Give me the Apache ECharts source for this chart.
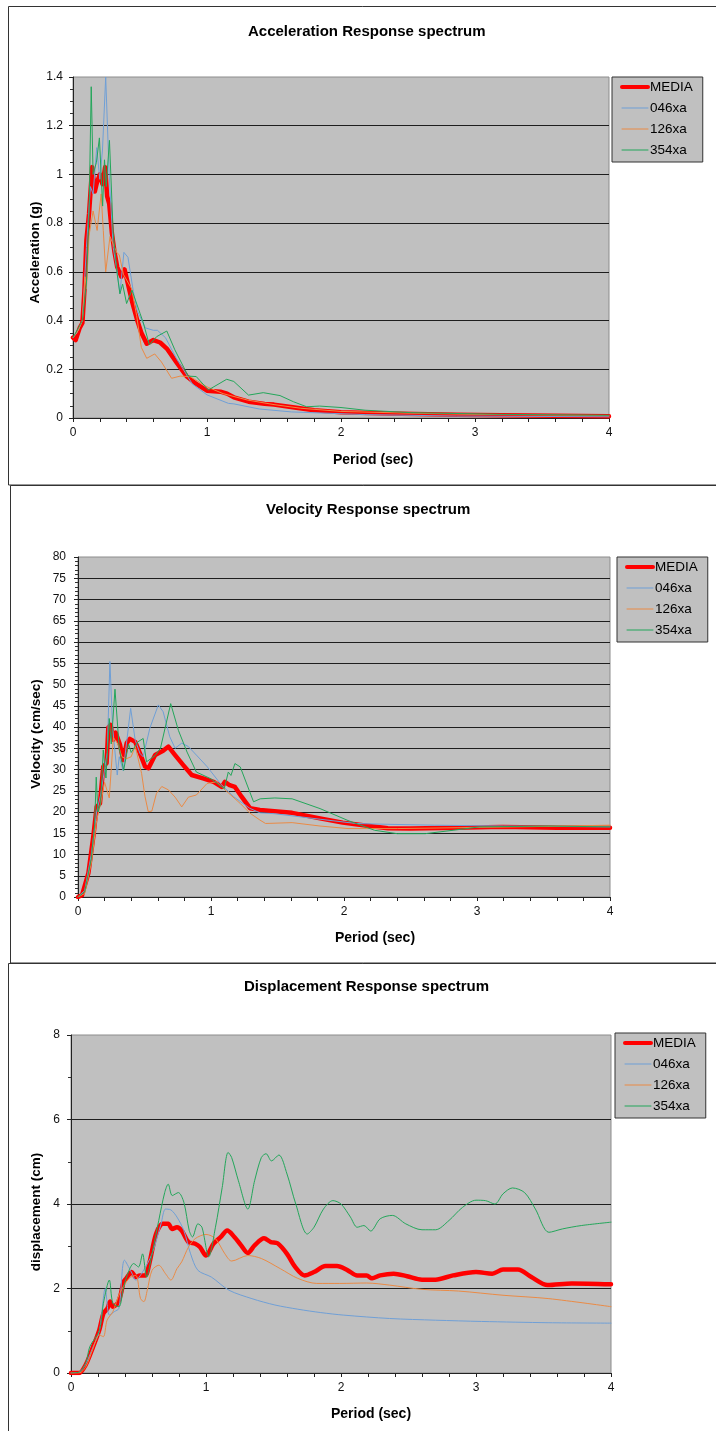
<!DOCTYPE html>
<html>
<head>
<meta charset="utf-8">
<script src="https://cdn.jsdelivr.net/npm/echarts@6/dist/echarts.min.js"></script>
<style>
html,body{margin:0;padding:0;background:#fff;}
#c{width:716px;height:1431px;}
</style>
</head>
<body>
<div id="c"></div>
<script>
// ---------- DATA ----------
var seriesNames = ['MEDIA', '046xa', '126xa', '354xa'];
var chartTitles = ['Acceleration Response spectrum', 'Velocity Response spectrum', 'Displacement Response spectrum'];
var yTitles = ['Acceleration (g)', 'Velocity (cm/sec)', 'displacement (cm)'];
var xTitle = 'Period (sec)';

// Acceleration [period (s), value (g)]
var accMedia = [[0,0.33],[0.02,0.32],[0.05,0.37],[0.07,0.39],[0.085,0.52],[0.10,0.73],[0.12,0.84],[0.143,1.03],[0.163,0.93],[0.18,0.97],[0.20,1.0],[0.22,0.96],[0.24,1.03],[0.255,0.91],[0.27,0.88],[0.29,0.76],[0.31,0.68],[0.33,0.62],[0.36,0.58],[0.385,0.61],[0.41,0.55],[0.44,0.48],[0.48,0.40],[0.51,0.35],[0.55,0.305],[0.6,0.32],[0.65,0.31],[0.70,0.285],[0.77,0.23],[0.85,0.17],[0.92,0.14],[1.0,0.112],[1.1,0.108],[1.15,0.10],[1.2,0.085],[1.31,0.067],[1.43,0.058],[1.5,0.055],[1.64,0.044],[1.8,0.032],[2.0,0.024],[2.35,0.018],[2.86,0.013],[3.2,0.011],[4,0.007]];
var acc046 = [[0,0.33],[0.03,0.35],[0.07,0.40],[0.10,0.70],[0.13,0.95],[0.15,0.92],[0.177,1.11],[0.20,0.98],[0.22,1.1],[0.244,1.40],[0.27,1.0],[0.30,0.70],[0.33,0.60],[0.35,0.51],[0.38,0.68],[0.41,0.66],[0.45,0.52],[0.48,0.44],[0.54,0.37],[0.6,0.36],[0.63,0.36],[0.69,0.33],[0.77,0.246],[0.89,0.14],[1.0,0.095],[1.16,0.06],[1.2,0.058],[1.39,0.037],[1.63,0.025],[2.18,0.014],[2.86,0.008],[4,0.005]];
var acc126 = [[0,0.33],[0.04,0.36],[0.07,0.40],[0.09,0.58],[0.10,0.53],[0.12,0.75],[0.15,0.85],[0.18,0.77],[0.21,0.92],[0.226,0.77],[0.244,0.60],[0.276,0.745],[0.326,0.68],[0.345,0.67],[0.376,0.59],[0.438,0.53],[0.475,0.42],[0.51,0.29],[0.55,0.245],[0.61,0.263],[0.66,0.23],[0.736,0.163],[0.8,0.172],[0.873,0.17],[1.0,0.128],[1.12,0.10],[1.3,0.074],[1.5,0.055],[1.7,0.04],[2.0,0.027],[2.5,0.02],[3.0,0.015],[4,0.01]];
var acc354 = [[0,0.33],[0.04,0.37],[0.07,0.40],[0.10,0.55],[0.12,0.85],[0.136,1.36],[0.15,1.0],[0.175,1.05],[0.197,1.15],[0.221,0.87],[0.235,1.06],[0.248,0.95],[0.272,1.14],[0.30,0.76],[0.33,0.59],[0.35,0.51],[0.37,0.55],[0.40,0.47],[0.44,0.525],[0.50,0.43],[0.525,0.39],[0.57,0.30],[0.624,0.334],[0.70,0.357],[0.76,0.28],[0.86,0.172],[0.92,0.17],[1.01,0.115],[1.147,0.159],[1.2,0.15],[1.31,0.094],[1.42,0.104],[1.545,0.092],[1.644,0.067],[1.744,0.046],[1.84,0.049],[2.0,0.043],[2.18,0.032],[2.52,0.022],[3.2,0.015],[4,0.011]];

// Velocity [period (s), value (cm/sec)]
var velMedia = [[0,0],[0.03,0.4],[0.078,5.6],[0.115,14.2],[0.14,21.2],[0.165,22],[0.19,30.7],[0.215,31.5],[0.228,39.9],[0.246,40.5],[0.266,37],[0.283,38.7],[0.316,35.8],[0.34,32.2],[0.366,36.2],[0.39,37.2],[0.43,36.5],[0.466,33.8],[0.504,30.7],[0.53,30.3],[0.58,33.4],[0.64,34.4],[0.68,35.4],[0.73,33.4],[0.79,31.1],[0.855,28.7],[0.94,27.9],[1.02,27.1],[1.08,25.9],[1.105,27.1],[1.14,26.3],[1.18,25.9],[1.23,23.6],[1.293,20.9],[1.368,20.5],[1.476,20.2],[1.61,19.8],[1.82,18.5],[1.99,17.5],[2.16,16.8],[2.33,16.2],[2.5,16.1],[2.85,16.3],[3.19,16.5],[3.6,16.3],[4,16.3]];
var vel046 = [[0,0],[0.05,1.5],[0.1,10],[0.14,20],[0.17,24],[0.2,30],[0.22,34],[0.24,55.4],[0.26,40],[0.295,28.7],[0.31,33],[0.34,29.7],[0.396,44.4],[0.43,36.9],[0.466,33.8],[0.49,33],[0.54,39.7],[0.604,45.2],[0.64,43.6],[0.69,37.7],[0.73,35],[0.78,36.2],[0.83,35.4],[0.89,33.4],[0.97,30.7],[1.07,26.7],[1.17,23.6],[1.29,20.9],[1.368,19.8],[1.476,19.6],[1.82,18.3],[2.09,17.3],[2.33,17.1],[2.68,16.9],[3.2,16.7],[4,16.5]];
var vel126 = [[0,0],[0.05,0.8],[0.1,8],[0.14,18],[0.17,22],[0.2,27],[0.235,23.3],[0.266,37.5],[0.3,36],[0.33,33],[0.36,32.5],[0.4,33],[0.43,35.5],[0.478,29.1],[0.504,23.6],[0.528,20.1],[0.555,20.2],[0.59,24.4],[0.63,26],[0.68,25.2],[0.73,23.5],[0.78,21.2],[0.83,23.5],[0.89,24],[0.97,26.7],[1.04,27.1],[1.12,24.8],[1.22,22],[1.29,19.8],[1.368,18.1],[1.41,17.3],[1.61,17.5],[1.82,16.7],[2.03,16.1],[2.4,16.1],[2.85,16.3],[3.5,16.6],[4,16.9]];
var vel354 = [[0,0],[0.05,1.2],[0.1,9],[0.125,17],[0.137,28.2],[0.15,20],[0.17,22],[0.19,34.6],[0.21,28],[0.235,42],[0.25,36],[0.278,48.9],[0.31,35],[0.343,29.8],[0.38,36],[0.4,34],[0.45,36.5],[0.49,37.3],[0.515,31.8],[0.58,33.3],[0.62,35],[0.697,45.5],[0.755,39.2],[0.82,34.1],[0.89,29.4],[1.0,27.8],[1.1,25.5],[1.13,29.4],[1.15,28.6],[1.18,31.4],[1.22,30.6],[1.32,22.4],[1.37,23.1],[1.48,23.3],[1.61,23.1],[1.82,20.8],[2.03,18],[2.23,15.7],[2.4,14.9],[2.61,14.9],[2.82,15.7],[3.02,16.5],[3.54,16.7],[4,16.5]];

// Displacement [period (s), value (cm)]
var dispMedia = [[0,0],[0.06,0],[0.11,0.2],[0.16,0.59],[0.21,1.02],[0.24,1.41],[0.27,1.53],[0.29,1.69],[0.31,1.57],[0.345,1.65],[0.37,1.88],[0.39,2.16],[0.41,2.24],[0.45,2.39],[0.48,2.27],[0.51,2.31],[0.55,2.31],[0.58,2.59],[0.63,3.29],[0.68,3.53],[0.72,3.53],[0.75,3.41],[0.785,3.45],[0.82,3.37],[0.87,3.1],[0.92,3.06],[0.955,2.98],[1.0,2.78],[1.056,3.06],[1.11,3.22],[1.157,3.37],[1.21,3.22],[1.26,3.02],[1.31,2.84],[1.36,3.02],[1.43,3.19],[1.48,3.1],[1.53,3.07],[1.6,2.82],[1.66,2.51],[1.73,2.31],[1.8,2.39],[1.885,2.53],[1.97,2.53],[2.05,2.43],[2.12,2.31],[2.19,2.31],[2.23,2.24],[2.29,2.31],[2.39,2.35],[2.49,2.29],[2.6,2.21],[2.7,2.21],[2.83,2.31],[3.0,2.39],[3.12,2.35],[3.2,2.45],[3.31,2.45],[3.41,2.27],[3.53,2.08],[3.71,2.12],[4,2.1]];
var disp046 = [[0,0],[0.06,0.02],[0.11,0.22],[0.16,0.59],[0.21,1.0],[0.254,2.0],[0.284,1.37],[0.32,1.45],[0.355,1.53],[0.396,2.67],[0.447,2.39],[0.48,2.2],[0.53,2.39],[0.6,2.82],[0.667,3.53],[0.7,3.88],[0.74,3.86],[0.785,3.69],[0.836,3.37],[0.886,2.82],[0.94,2.43],[1.04,2.27],[1.17,1.96],[1.34,1.76],[1.51,1.61],[1.68,1.51],[1.85,1.43],[2.02,1.37],[2.36,1.29],[2.7,1.25],[3.04,1.22],[3.54,1.19],[4,1.18]];
var disp126 = [[0,0],[0.06,0],[0.11,0.15],[0.16,0.55],[0.21,0.9],[0.24,0.86],[0.267,1.25],[0.31,1.45],[0.36,1.88],[0.43,2.24],[0.48,2.31],[0.515,1.76],[0.54,1.69],[0.565,1.96],[0.6,2.43],[0.65,2.55],[0.7,2.35],[0.74,2.2],[0.785,2.47],[0.82,2.63],[0.87,2.98],[0.92,3.18],[1.0,3.28],[1.07,3.18],[1.14,2.82],[1.19,2.65],[1.31,2.78],[1.41,2.71],[1.55,2.47],[1.68,2.24],[1.82,2.12],[1.99,2.12],[2.19,2.13],[2.36,2.08],[2.6,1.98],[2.87,1.94],[3.2,1.84],[3.54,1.76],[4,1.57]];
var disp354 = [[0,0],[0.06,0.02],[0.11,0.25],[0.14,0.63],[0.21,1.0],[0.24,1.65],[0.284,2.2],[0.31,1.65],[0.355,1.57],[0.39,2.04],[0.43,2.43],[0.464,2.59],[0.5,2.51],[0.53,2.82],[0.56,2.27],[0.6,2.82],[0.65,3.61],[0.694,4.27],[0.72,4.47],[0.75,4.2],[0.795,4.27],[0.836,4.04],[0.876,3.37],[0.9,3.22],[0.94,3.53],[0.97,3.45],[1.02,2.75],[1.07,3.45],[1.12,4.39],[1.164,5.22],[1.19,5.1],[1.24,4.55],[1.31,3.88],[1.36,4.55],[1.41,5.1],[1.445,5.19],[1.485,5.02],[1.54,5.16],[1.6,4.71],[1.665,4.0],[1.75,3.29],[1.8,3.45],[1.87,3.88],[1.94,4.08],[2.0,4.0],[2.07,3.69],[2.12,3.45],[2.17,3.49],[2.22,3.36],[2.29,3.65],[2.38,3.73],[2.48,3.53],[2.6,3.39],[2.7,3.39],[2.8,3.61],[2.9,3.92],[3.0,4.09],[3.07,4.08],[3.14,4.0],[3.2,4.24],[3.27,4.38],[3.36,4.27],[3.44,3.88],[3.54,3.33],[3.64,3.41],[3.78,3.49],[4,3.57]];

// ---------- LAYOUT / STYLE ----------
var FONT = 'Liberation Sans, Arial, sans-serif';
var colors = ['#ff0000', '#6f9fd6', '#ea8a45', '#23a65a'];
var widths = [4.5, 1, 1, 1];

var panels = [
  {grid:{left:73, top:77, width:536, height:341}, yMax:1.4, yInt:0.2, yMinor:4, labelMargin:10,
   title:{left:248, top:24}, legend:{left:612, top:77}, yNameGap:31, yShift:10, xNameGap:35, xShift:64, smooth:false,
   data:[accMedia, acc046, acc126, acc354]},
  {grid:{left:78, top:557, width:532, height:340}, yMax:80, yInt:5, yMinor:5, labelMargin:12,
   title:{left:266, top:502}, legend:{left:617, top:557}, yNameGap:35, yShift:14, xNameGap:34, xShift:62, smooth:false,
   data:[velMedia, vel046, vel126, vel354]},
  {grid:{left:71, top:1035, width:540, height:338}, yMax:8, yInt:2, yMinor:2, labelMargin:11,
   title:{left:244, top:979}, legend:{left:615, top:1033}, yNameGap:28, yShift:16, xNameGap:34, xShift:60, smooth:0.3,
   data:[dispMedia, disp046, disp126, disp354]}
];

var option = {
  animation: false,
  backgroundColor: '#ffffff',
  textStyle: {fontFamily: FONT},
  title: [], grid: [], xAxis: [], yAxis: [], legend: [], series: [],
  graphic: [
    {type:'rect', shape:{x:8.5, y:6.5, width:720, height:478.5}, style:{fill:'none', stroke:'#333', lineWidth:1}, silent:true},
    {type:'rect', shape:{x:10.5, y:485.5, width:720, height:477.5}, style:{fill:'none', stroke:'#333', lineWidth:1}, silent:true},
    {type:'rect', shape:{x:8.5, y:963.5, width:720, height:480}, style:{fill:'none', stroke:'#333', lineWidth:1}, silent:true}
  ]
};

panels.forEach(function (p, i) {
  option.title.push({
    text: chartTitles[i], left: p.title.left, top: p.title.top, padding: 0,
    textStyle: {fontFamily: FONT, fontSize: 15, fontWeight: 'bold', color: '#000'}
  });
  option.grid.push({
    left: p.grid.left, top: p.grid.top, width: p.grid.width, height: p.grid.height,
    show: true, backgroundColor: '#c0c0c0', borderColor: '#8c8c8c', borderWidth: 1
  });
  option.xAxis.push({
    type: 'value', gridIndex: i, min: 0, max: 4, interval: 1,
    name: xTitle, nameLocation: 'middle', nameGap: p.xNameGap, nameMoveOverlap: false,
    nameTextStyle: {fontFamily: FONT, fontSize: 14, fontWeight: 'bold', color: '#000', padding: [0, 0, 0, p.xShift]},
    axisLine: {show: true, onZero: false, lineStyle: {color: '#222', width: 1}},
    axisTick: {show: true, length: 4, lineStyle: {color: '#222'}},
    minorTick: {show: true, splitNumber: 5, length: 4, lineStyle: {color: '#222'}},
    axisLabel: {fontFamily: FONT, fontSize: 12, color: '#111', margin: 9},
    splitLine: {show: false}
  });
  option.yAxis.push({
    type: 'value', gridIndex: i, min: 0, max: p.yMax, interval: p.yInt,
    name: yTitles[i], nameLocation: 'middle', nameGap: p.yNameGap, nameMoveOverlap: false,
    nameTextStyle: {fontFamily: FONT, fontSize: 13.5, fontWeight: 'bold', color: '#000', padding: [0, p.yShift, 0, 0]},
    axisLine: {show: true, onZero: false, lineStyle: {color: '#222', width: 1}},
    axisTick: {show: true, length: 4, lineStyle: {color: '#222'}},
    minorTick: {show: true, splitNumber: p.yMinor, length: 3, lineStyle: {color: '#333'}},
    axisLabel: {fontFamily: FONT, fontSize: 12, color: '#111', margin: p.labelMargin},
    splitLine: {show: true, showMinLine: false, showMaxLine: false, lineStyle: {color: '#1e1e1e', width: 1}}
  });
  option.legend.push({
    left: p.legend.left, top: p.legend.top, orient: 'vertical',
    backgroundColor: '#c0c0c0', borderColor: '#333', borderWidth: 1,
    padding: [3, 10, 5, 8], itemGap: 7, itemWidth: 26, itemHeight: 10,
    textStyle: {fontFamily: FONT, fontSize: 13.5, color: '#000', padding: [0, 0, 0, -3]},
    data: seriesNames.map(function (n, k) {
      return {name: n, itemStyle: {opacity: 0}, lineStyle: {width: k === 0 ? 4 : 1, color: colors[k], opacity: 1}};
    })
  });
  p.data.forEach(function (d, k) {
    option.series.push({
      type: 'line', name: seriesNames[k], xAxisIndex: i, yAxisIndex: i,
      data: d, symbol: 'none', showSymbol: false, smooth: p.smooth,
      clip: true, z: 2 + k,
      lineStyle: {color: colors[k], width: widths[k], join: 'round', cap: 'round'},
      itemStyle: {color: colors[k]}
    });
  });
});

var chart = echarts.init(document.getElementById('c'), null, {renderer: 'canvas'});
chart.setOption(option);
</script>
</body>
</html>
